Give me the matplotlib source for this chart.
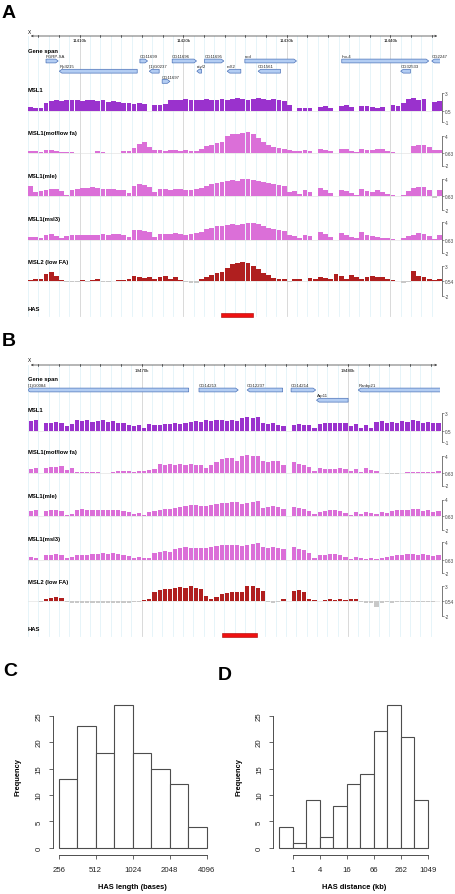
import numpy as np
import matplotlib.pyplot as plt
from matplotlib.patches import Polygon, Rectangle

nan = np.nan

# ---------------- data ----------------
# panel A: X:11405k-11445k, probes binned at 0.5 kb
a_start, a_step = 11405.0, 0.5
a_msl1 = [1.1, 1.0, 0.9, 1.6, 1.9, 2.0, 1.9, 2.0, 2.1, 2.0, 1.9, 2.0, 2.1, 1.9, 2.0, 1.8, 1.9, 1.8, 1.7, 1.6,
          1.5, 1.6, 1.5, nan, 1.4, 1.3, 1.5, 2.0, 2.1, 2.0, 2.2, 2.1, 2.0, 2.1, 2.2, 2.0, 2.1, 2.2, 2.1, 2.2,
          2.3, 2.2, 2.1, 2.2, 2.3, 2.2, 2.1, 2.2, 2.0, 1.9, 1.3, nan, 1.0, 0.9, 1.0, nan, 1.1, 1.2, 1.0, nan,
          1.2, 1.3, 1.1, nan, 1.2, 1.2, 1.1, 1.0, 1.1, nan, 1.3, 1.2, 1.6, 2.2, 2.3, 2.1, 2.2, nan, 1.8, 1.9]
a_mof = [0.9, 1.0, 0.8, 1.2, 1.1, 1.0, 0.8, 0.7, 0.65, 0.5, 0.45, 0.5, 0.55, 0.9, 0.7, 0.45, 0.5, 0.5, 0.9, 1.0,
         1.5, 2.4, 2.7, 1.8, 1.1, 1.1, 1.0, 1.2, 1.1, 1.0, 1.1, 1.0, 1.0, 1.3, 1.9, 2.2, 2.5, 2.7, 4.1, 4.4,
         4.5, 4.7, 4.8, 4.5, 3.6, 2.8, 2.2, 1.8, 1.5, 1.3, 1.2, 1.0, 0.9, 1.2, 1.0, nan, 1.4, 1.2, 0.9, nan,
         1.4, 1.3, 1.0, 0.8, 1.3, 1.2, 1.1, 1.3, 1.4, 1.0, 0.8, 0.5, 0.45, 0.6, 2.0, 2.1, 2.1, 1.8, 1.1, 1.2]
a_mle = [2.8, 1.6, 1.8, 2.0, 2.2, 2.1, 1.7, 0.9, 2.0, 2.2, 2.3, 2.4, 2.5, 2.3, 2.2, 2.1, 2.2, 2.0, 1.9, 1.4,
         2.8, 3.1, 2.9, 2.6, 1.5, 2.1, 2.2, 2.0, 2.2, 2.1, 2.0, 1.9, 2.1, 2.3, 2.8, 3.1, 3.4, 3.6, 3.8, 3.9,
         3.8, 4.0, 4.0, 3.9, 3.7, 3.5, 3.3, 3.2, 3.0, 2.8, 1.6, 1.8, 1.2, 1.9, 1.5, nan, 2.3, 1.9, 1.3, nan,
         2.0, 1.7, 1.3, 1.0, 2.2, 1.8, 1.6, 1.9, 1.5, 1.2, 1.0, 0.7, 0.9, 1.8, 2.4, 2.6, 2.5, 1.9, 0.4, 1.9]
a_msl3 = [1.1, 1.2, 1.0, 1.5, 1.7, 1.4, 1.0, 1.3, 1.5, 1.6, 1.5, 1.6, 1.5, 1.6, 1.7, 1.6, 1.8, 1.7, 1.5, 1.2,
          2.4, 2.5, 2.3, 2.1, 1.2, 1.7, 1.8, 1.7, 1.9, 1.8, 1.6, 1.8, 1.9, 2.1, 2.6, 2.9, 3.2, 3.3, 3.5, 3.6,
          3.5, 3.7, 3.8, 3.9, 3.6, 3.2, 2.9, 2.7, 2.5, 2.3, 1.6, 1.4, 1.0, 1.5, 1.3, nan, 2.1, 1.7, 1.1, nan,
          2.0, 1.6, 1.1, 0.9, 2.2, 1.6, 1.3, 1.2, 1.0, 0.9, 0.8, 0.6, 0.9, 1.3, 1.6, 1.9, 1.8, 1.4, 0.8, 1.6]
a_msl2 = [0.7, 0.9, 0.8, 1.7, 1.9, 1.3, 0.7, 0.3, 0.35, 0.4, 0.6, 0.3, 0.7, 0.8, 0.4, 0.35, 0.5, 0.7, 0.6, 0.8,
          1.3, 1.1, 1.0, 1.2, 0.8, 1.1, 1.3, 0.9, 1.2, 0.7, 0.3, 0.1, 0.2, 0.9, 1.2, 1.5, 1.8, 1.9, 2.7, 3.3,
          3.5, 3.6, 3.4, 3.0, 2.4, 1.8, 1.4, 1.0, 0.9, 0.8, 0.3, 0.9, 0.8, nan, 1.0, 0.9, 1.1, 1.0, 0.8, 1.6,
          1.3, 0.9, 1.4, 1.2, 0.8, 1.2, 1.3, 1.1, 1.2, 0.8, 0.7, 0.5, 0.1, 0.3, 2.1, 1.3, 1.1, 0.8, 0.7, 0.9]

# panel B: X:19464.5k-19484.5k, probes binned at 0.25 kb
b_start, b_step = 19464.5, 0.25
b_msl1 = [1.95, 2.0, nan, 1.7, 1.6, 1.8, 1.7, 1.2, 1.5, 2.0, 1.9, 2.0, 1.8, 1.9, 2.0, 1.8, 1.9, 1.7, 1.6, 1.4,
          1.2, 1.4, 1.0, 1.5, 1.3, 1.4, 1.5, 1.5, 1.6, 1.5, 1.7, 1.8, 1.9, 1.8, 2.0, 1.9, 2.0, 2.1, 1.9, 2.0,
          1.9, 2.3, 2.4, 2.3, 2.4, 1.6, 1.5, 1.6, 1.4, 1.2, nan, 1.4, 1.5, 1.4, 1.3, 1.0, 1.5, 1.6, 1.7, 1.6,
          1.7, 1.6, 1.2, 1.5, 0.9, 1.4, 1.0, 1.8, 1.9, 1.6, 1.8, 1.7, 1.9, 1.8, 2.0, 1.9, 1.7, 1.8, 1.7, 1.7]
b_mof = [1.3, 1.5, nan, 1.6, 1.8, 1.7, 1.9, 1.2, 1.5, 0.8, 0.75, 0.7, 0.7, 0.75, 0.5, 0.55, 0.8, 0.9, 1.0, 0.9,
         0.8, 0.9, 1.0, 1.2, 1.3, 2.3, 2.2, 2.3, 2.2, 2.3, 2.2, 2.3, 2.2, 2.2, 1.6, 2.2, 2.8, 3.4, 3.5, 3.6,
         3.0, 4.1, 4.2, 4.1, 4.0, 2.9, 2.8, 2.9, 3.0, 2.2, nan, 2.7, 2.4, 2.1, 1.8, 1.0, 1.5, 1.4, 1.3, 1.4,
         1.5, 1.3, 0.9, 1.4, 0.8, 1.5, 1.2, 0.9, 0.5, 0.4, 0.35, 0.4, 0.5, 0.7, 0.75, 0.7, 0.8, 0.75, 0.8, 0.9]
b_mle = [1.7, 1.9, nan, 1.8, 1.9, 1.9, 1.7, 1.0, 1.2, 2.0, 2.1, 1.9, 1.9, 2.0, 2.0, 1.9, 2.0, 1.9, 1.8, 1.6,
         1.2, 1.4, 1.0, 1.5, 1.8, 2.0, 2.1, 2.2, 2.3, 2.5, 2.8, 3.0, 2.9, 2.8, 2.7, 3.0, 3.1, 3.3, 3.4, 3.5,
         3.5, 3.2, 3.4, 3.6, 3.7, 2.4, 2.5, 2.7, 2.6, 2.2, nan, 2.5, 2.4, 2.2, 1.8, 1.1, 1.6, 1.8, 2.0, 1.9,
         1.8, 1.3, 0.9, 1.6, 1.1, 1.6, 1.4, 1.2, 1.5, 1.3, 1.8, 1.9, 2.0, 1.9, 2.1, 2.2, 1.8, 2.0, 1.6, 1.8]
b_msl3 = [1.2, 1.0, nan, 1.5, 1.6, 1.7, 1.5, 0.9, 1.2, 1.5, 1.6, 1.6, 1.7, 1.8, 1.9, 1.8, 1.9, 1.8, 1.6, 1.3,
          1.0, 1.1, 0.9, 1.0, 2.0, 2.2, 2.3, 2.2, 2.6, 2.9, 3.0, 2.9, 2.8, 2.8, 2.9, 3.1, 3.3, 3.4, 3.5, 3.5,
          3.4, 3.3, 3.5, 3.7, 3.9, 3.0, 2.8, 3.0, 2.9, 2.6, nan, 3.0, 2.7, 2.4, 2.0, 1.0, 1.5, 1.6, 1.8, 1.7,
          1.6, 1.1, 0.8, 1.1, 0.9, 0.8, 1.0, 0.8, 0.9, 1.2, 1.3, 1.5, 1.6, 1.7, 1.7, 1.6, 1.7, 1.6, 1.4, 1.5]
b_msl2 = [0.45, 0.5, 0.4, 0.9, 1.0, 1.1, 1.0, 0.3, 0.2, 0.1, 0.2, 0.15, 0.2, 0.1, 0.2, 0.15, 0.1, 0.2, 0.1, 0.2,
          0.3, 0.4, 0.6, 0.9, 2.0, 2.3, 2.5, 2.4, 2.6, 2.8, 2.7, 2.9, 2.6, 2.5, 1.3, 0.8, 1.2, 1.6, 1.8, 1.9,
          2.0, 1.9, 2.9, 2.9, 2.6, 2.2, 0.4, 0.2, 0.4, 0.9, nan, 2.1, 2.3, 1.9, 0.9, 0.7, 0.5, 0.7, 0.75, 0.7,
          0.8, 0.7, 0.8, 0.9, 0.3, 0.2, 0.1, -0.5, 0.2, 0.3, 0.2, 0.3, 0.35, 0.3, 0.4, 0.3, 0.4, 0.35, 0.4, 0.5]

# genes: name, start kb, end kb, strand, row
a_genes = [("PGRP-SA", 11406.74, 11407.92, 1, 0), ("CG11699", 11415.81, 11416.55, 1, 0),
           ("CG11696", 11418.93, 11421.28, 1, 0), ("CG11695", 11422.06, 11423.92, 1, 0),
           ("nod", 11425.95, 11430.94, 1, 0), ("rho-4", 11435.31, 11443.71, 1, 0),
           ("CG2247", 11444.0, 11445.2, -1, 0),
           ("RpII215", 11408.02, 11415.55, -1, 1), ("l(1)G0237", 11416.71, 11417.67, -1, 1),
           ("ety/2", 11421.31, 11421.77, -1, 1), ("roX2", 11424.24, 11425.56, -1, 1),
           ("CG1561", 11427.23, 11429.39, -1, 1), ("CG32533", 11441.0, 11441.94, -1, 1),
           ("CG11697", 11417.96, 11418.71, 1, 2)]
b_genes = [("l(1)G0084", 19464.47, 19472.28, -1, 0), ("CG14213", 19472.78, 19474.68, 1, 0),
           ("CG12237", 19475.11, 19476.83, -1, 0), ("CG14214", 19477.24, 19478.43, 1, 0),
           ("Ranbp21", 19480.49, 19484.57, -1, 0), ("Arp11", 19478.47, 19480.0, -1, 1)]
a_has = (11423.63, 11426.69)
b_has = (19473.88, 19475.6)

track_names = ["MSL1", "MSL1(mof/low fa)", "MSL1(mle)", "MSL1(msl3)", "MSL2 (low FA)"]
track_scale = [(-1, 0.5, 3), (-2, 0.63, 4), (-2, 0.63, 4), (-2, 0.63, 4), (-2, 0.54, 3)]
track_scale_txt = [("-1", "0.5", "3"), ("-2", "0.63", "4"), ("-2", "0.63", "4"), ("-2", "0.63", "4"), ("-2", "0.54", "3")]
track_colors = ["#9A32CD", "#DB6FD8", "#DB6FD8", "#DB6FD8", "#B01F1F"]

# histograms (log2 scale bins)
len_edges = np.arange(8, 12.01, 0.5)
len_counts = [13, 23, 18, 27, 18, 15, 12, 4]
len_ticks = [8, 9, 10, 11, 12]
len_labels = ["256", "512", "1024", "2048", "4096"]
dist_edges = np.arange(9, 20.01, 1)
dist_counts = [4, 1, 9, 2, 8, 12, 14, 22, 27, 21, 9]
dist_ticks = [10, 12, 14, 16, 18, 20]
dist_labels = ["1", "4", "16", "66", "262", "1049"]

# ---------------- drawing ----------------
plt.rcParams['font.family'] = ['Liberation Sans', 'DejaVu Sans']
W, H = 456, 895
fig = plt.figure(figsize=(W / 100, H / 100), dpi=100)


def box(x0, y0, x1, y1):
    return fig.add_axes([x0 / W, 1 - y1 / H, (x1 - x0) / W, (y1 - y0) / H])


def ftext(x, y, s, **kw):
    fig.text(x / W, 1 - y / H, s, **kw)


X0, X1 = 28, 440


def panel(letter, top, kb0, kb1, tick_step, grid_step, genes, tracks, start, step, has, bar_frac):
    # top = y of the ruler line in pixels
    n_rows = max(g[4] for g in genes) + 1
    pxkb = (X1 - X0) / (kb1 - kb0)
    ftext(2, top - 24, letter, fontsize=14, weight='bold', va='center')

    y_bot = top + 282 - (3 - n_rows) * 9
    ann = box(X0, top - 8, X1, y_bot)
    ann.set_xlim(kb0, kb1)
    ann.set_ylim(y_bot, top - 8)
    ann.axis('off')

    # grid lines
    for g in np.arange(np.ceil(kb0 / grid_step) * grid_step, kb1, grid_step):
        major = abs(g / 10 - round(g / 10)) < 1e-6
        ann.plot([g, g], [top, y_bot - 2], color='#D3D3D3' if major else '#E2F3F8',
                 lw=0.6, zorder=0)

    # ruler
    ann.annotate('', xy=(kb1, top), xytext=(kb0, top),
                 arrowprops=dict(arrowstyle='<->', lw=0.5, color='#333333', mutation_scale=3))
    for t in np.arange(np.ceil(kb0 / tick_step) * tick_step, kb1, tick_step):
        ann.plot([t, t], [top - 1.3, top + 1.3], color='#333333', lw=0.5)
        if abs(t / 10 - round(t / 10)) < 1e-6:
            ann.text(t, top + 2.5, f"{int(round(t))}k", fontsize=3.2, ha='center', va='top')
    ann.text(kb0, top - 2.5, "X", fontsize=3.4, ha='left', va='bottom')
    ann.text(kb0, top + 14, "Gene span", fontsize=4.2, weight='bold', ha='left', va='center')

    # genes
    hw = 1.9
    for name, s, e, strand, row in genes:
        y = top + 25 + row * 10.2
        a = min(2.6 / pxkb, (e - s) * 0.5)
        if strand > 0:
            pts = [(s, y - hw), (e - a, y - hw), (e, y), (e - a, y + hw), (s, y + hw)]
        else:
            pts = [(s, y), (s + a, y - hw), (e, y - hw), (e, y + hw), (s + a, y + hw)]
        ann.add_patch(Polygon(pts, closed=True, facecolor='#B3CDF3', edgecolor='#4C72B8', lw=0.5))
        ann.text(s, y - 2.8, name, fontsize=3.1, ha='left', va='bottom', color='#222222')

    # tracks
    t0 = top + 57 - (3 - n_rows) * 9
    offs = [0, 43, 86.5, 129.3, 172.7]
    heights = [29.3, 29.5, 30.2, 30.7, 30.6]
    for k, vals in enumerate(tracks):
        lo, base, hi = track_scale[k]
        y0 = t0 + offs[k]
        ftext(X0, y0 - 4, track_names[k], fontsize=4.2, weight='bold', va='center')
        ax = box(X0, y0, X1, y0 + heights[k])
        ax.set_facecolor('none')
        ax.set_xlim(kb0, kb1)
        ax.set_ylim(lo, hi)
        v = np.array(vals, float)
        x = start + (np.arange(len(v)) + 0.5) * step
        ok = ~np.isnan(v)
        x, v = x[ok], v[ok]
        up = v >= base
        ax.axhline(base, color='#DDDDDD', lw=0.4, zorder=0)
        ax.bar(x[up], v[up] - base, bottom=base, width=step * bar_frac, color=track_colors[k],
               lw=0, clip_on=False)
        ax.bar(x[~up], v[~up] - base, bottom=base, width=step * bar_frac, color='#C8C8C8', lw=0)
        for sp in ['top', 'left', 'bottom']:
            ax.spines[sp].set_visible(False)
        ax.spines['right'].set_bounds(lo, hi)
        ax.spines['right'].set_position(('outward', 1.4))
        ax.spines['right'].set_linewidth(0.5)
        ax.spines['right'].set_color('#444444')
        ax.set_xticks([])
        ax.yaxis.tick_right()
        ax.set_yticks([lo, base, hi])
        ax.set_yticklabels(track_scale_txt[k])
        ax.tick_params(axis='y', length=1.3, width=0.4, pad=0.6, labelsize=3.4, colors='#444444')

    # HAS
    yh = t0 + 215.5
    ftext(X0, yh, "HAS", fontsize=4.2, weight='bold', va='center')
    ann.add_patch(Rectangle((has[0], yh + 4), has[1] - has[0], 4, facecolor='#EE1111',
                            edgecolor='#AA0000', lw=0.4))


panel("A", 37, 11405.0, 11444.8, 2, 1, a_genes,
      [a_msl1, a_mof, a_mle, a_msl3, a_msl2], a_start, a_step, a_has, 0.92)
panel("B", 366, 19464.5, 19484.45, 1, 0.5, b_genes,
      [b_msl1, b_mof, b_mle, b_msl3, b_msl2], b_start, b_step, b_has, 0.8)


def hist(ax, edges, counts, ticks, labels, xlim):
    w = edges[1] - edges[0]
    ax.bar(edges[:-1], counts, width=w, align='edge', color='white', edgecolor='#4D4D4D', lw=0.8)
    ax.set_xlim(*xlim)
    ax.set_ylim(-1.08, 28.08)
    ax.spines['top'].set_visible(False)
    ax.spines['right'].set_visible(False)
    ax.spines['left'].set_bounds(0, 25)
    ax.spines['bottom'].set_bounds(ticks[0], ticks[-1])
    ax.spines['bottom'].set_position(('outward', 1))
    for sp in ['left', 'bottom']:
        ax.spines[sp].set_linewidth(0.7)
        ax.spines[sp].set_color('#4D4D4D')
    ax.set_yticks(range(0, 26, 5))
    ax.set_yticklabels([str(t) for t in range(0, 26, 5)], rotation=90, va='center')
    ax.set_xticks(ticks)
    ax.set_xticklabels(labels)
    ax.tick_params(length=3, width=0.6, pad=4.5, labelsize=5.6, colors='#4D4D4D', labelcolor='#222222')


axc = box(52.8, 700.2, 212.6, 854.7)
hist(axc, len_edges, len_counts, len_ticks, len_labels, (7.84, 12.16))
axd = box(273.4, 700.2, 433.6, 854.7)
hist(axd, dist_edges, dist_counts, dist_ticks, dist_labels, (8.56, 20.44))

ftext(3, 672, "C", fontsize=14, weight='bold', va='center')
ftext(218, 676, "D", fontsize=14, weight='bold', va='center')
ftext(132.7, 888, "HAS length (bases)", fontsize=5.4, weight='bold', ha='center', va='center')
ftext(354, 888, "HAS distance (kb)", fontsize=5.4, weight='bold', ha='center', va='center')
ftext(18.3, 777, "Frequency", fontsize=5.4, weight='bold', ha='center', va='center', rotation=90)
ftext(239.3, 777, "Frequency", fontsize=5.4, weight='bold', ha='center', va='center', rotation=90)

fig.savefig("out.png", dpi=100)
